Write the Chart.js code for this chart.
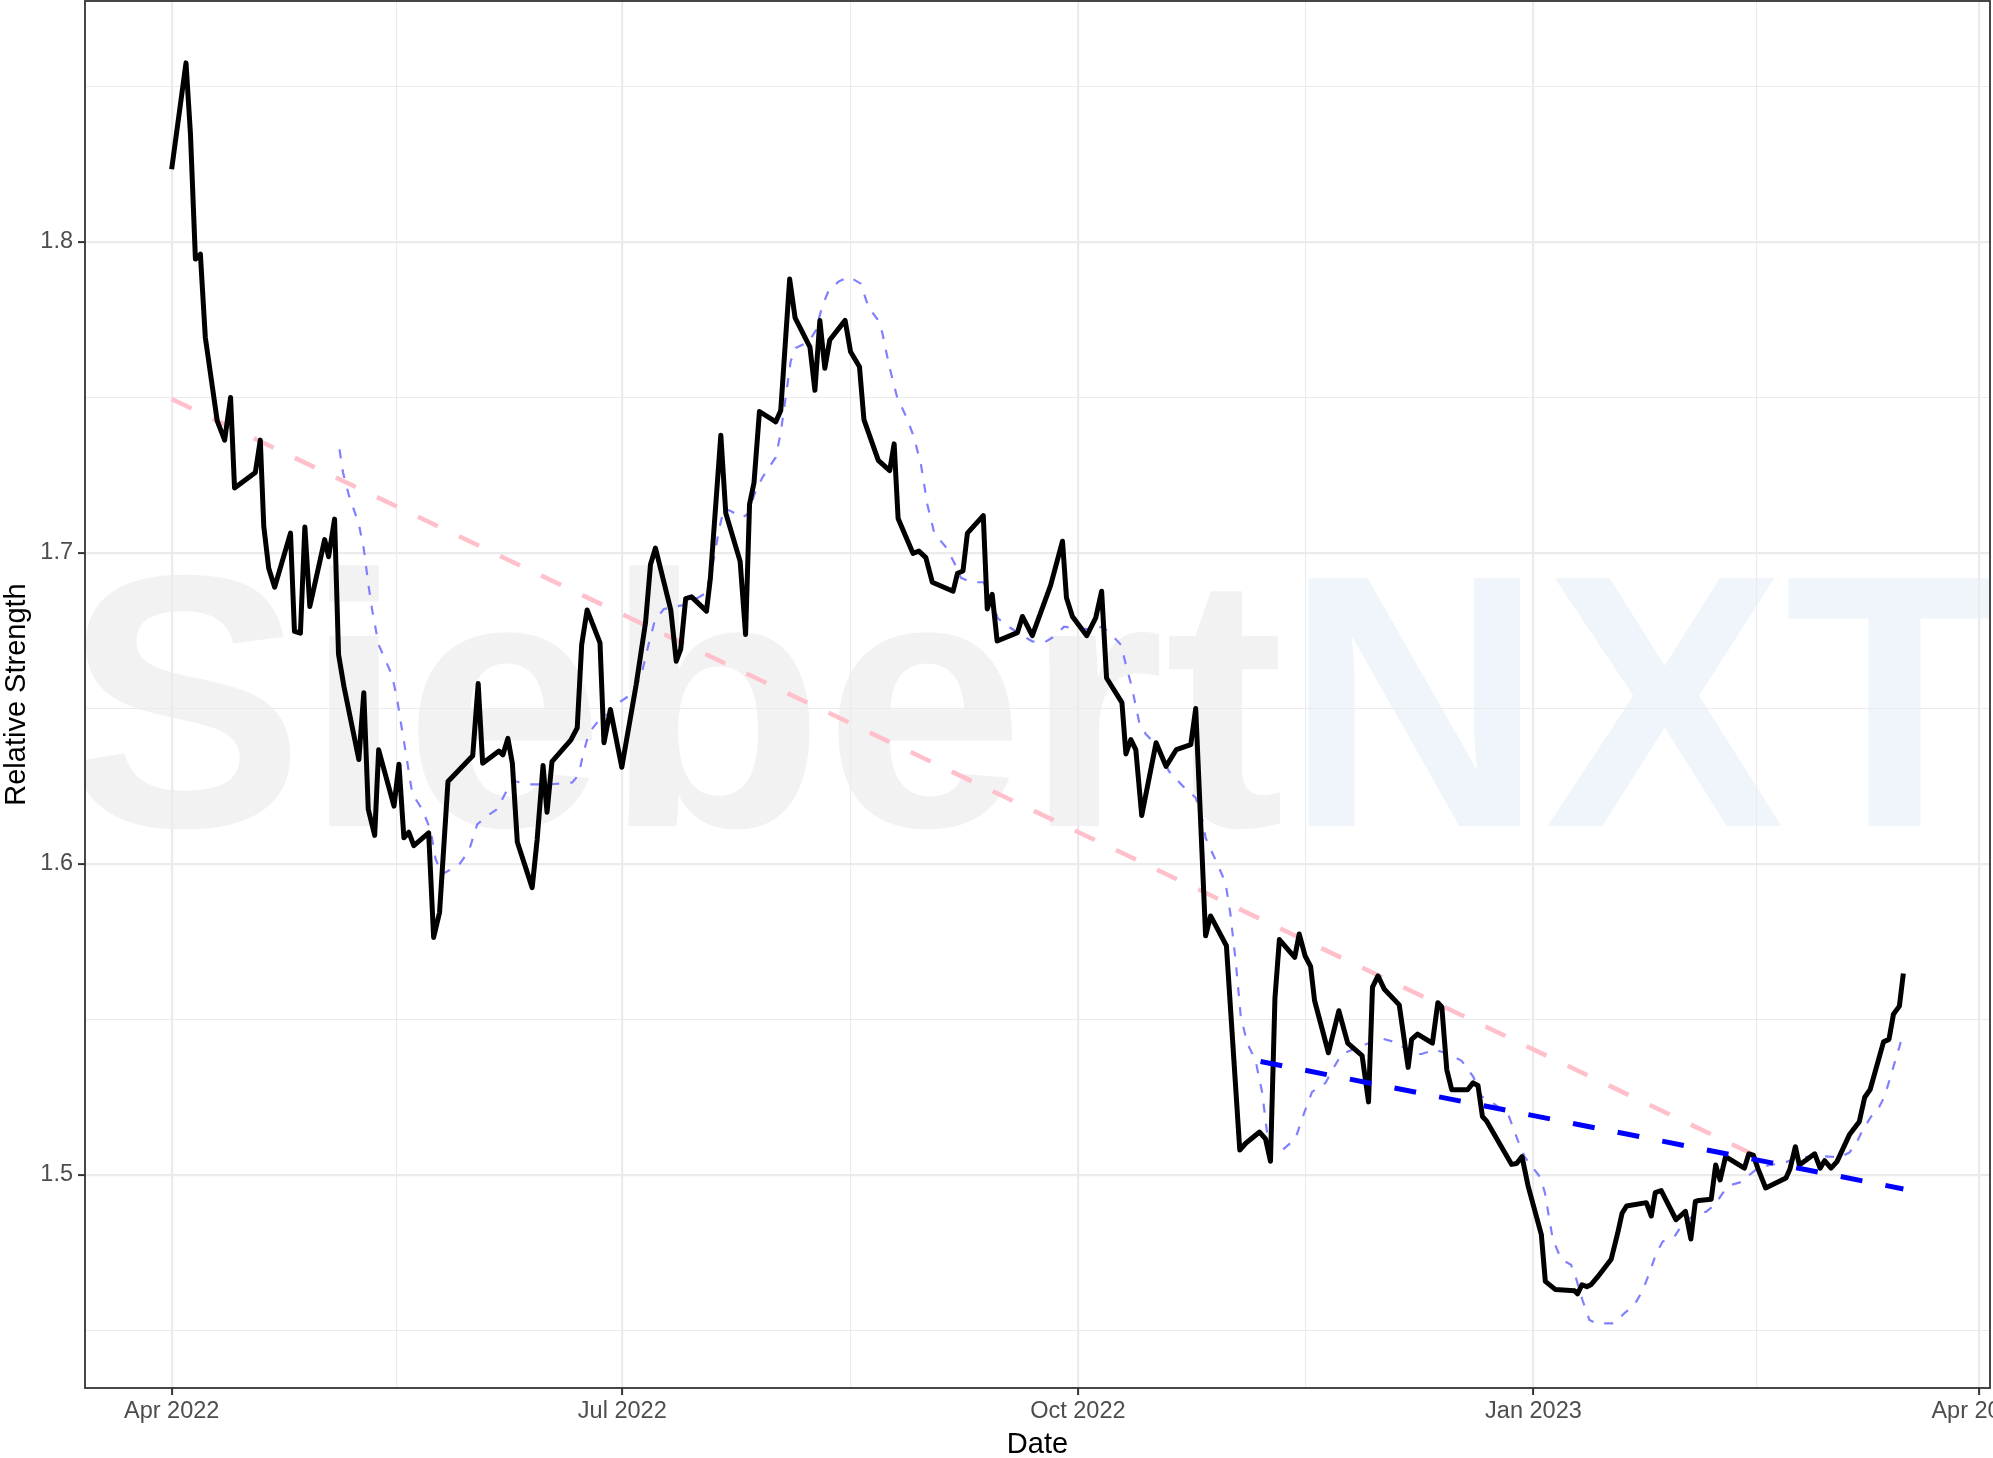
<!DOCTYPE html>
<html>
<head>
<meta charset="utf-8">
<title>Relative Strength</title>
<script src="https://cdn.jsdelivr.net/npm/chart.js@4.4.0/dist/chart.umd.min.js"></script>
<style>
  html, body { margin: 0; padding: 0; background: #ffffff; }
  canvas { display: block; }
</style>
</head>
<body>
<canvas id="rsChart" width="1993" height="1458"></canvas>
<script>
// x values are days counted from 2022-04-01

// relative strength (black line)
const rsDays = [
  0, 2.9, 3.8, 4.8, 5.8, 6.8, 9.2, 10.7, 11.9, 12.7,
  16.9, 17.9, 18.6, 19.6, 20.8, 24.0, 24.8, 26.0, 26.9, 27.9,
  30.9, 31.7, 32.9, 33.7, 34.8, 37.8, 38.8, 39.7, 41.0, 41.8,
  44.9, 45.9, 46.9, 47.9, 48.9, 51.9, 52.9, 54.1, 55.8, 60.8,
  61.9, 62.8, 66.1, 66.9, 67.9, 68.8, 69.8, 72.8, 73.8, 75.0,
  75.8, 76.8, 80.6, 81.9, 82.8, 83.9, 86.5, 87.3, 88.6, 90.9,
  93.8, 95.7, 96.7, 97.7, 100.8, 101.9, 102.8, 103.8, 105.0, 108.0,
  108.8, 110.9, 111.9, 114.8, 115.9, 116.7, 117.6, 118.7, 122.0, 123.0,
  124.8, 125.9, 128.9, 129.9, 130.9, 131.9, 132.9, 136.0, 137.1, 138.9,
  139.8, 142.7, 145.0, 145.9, 146.7, 149.7, 150.9, 152.3, 153.6, 157.8,
  158.7, 159.8, 160.7, 163.9, 164.7, 165.7, 166.7, 170.8, 171.8, 173.8,
  177.5, 179.9, 180.7, 181.9, 184.8, 186.6, 187.8, 188.8, 191.9, 192.7,
  193.7, 194.7, 195.9, 198.8, 200.8, 202.9, 205.8, 206.8, 208.8, 209.8,
  213.0, 215.7, 216.9, 219.7, 220.9, 221.9, 222.8, 223.7, 226.8, 227.7,
  228.9, 230.0, 230.8, 233.6, 235.7, 237.5, 240.4, 241.7, 242.5, 243.6,
  244.9, 247.9, 249.7, 250.4, 251.6, 254.6, 255.7, 256.5, 257.5, 258.5,
  261.7, 262.8, 263.8, 264.7, 265.5, 270.6, 271.6, 272.7, 273.9, 276.6,
  277.4, 279.4, 283.3, 283.9, 284.8, 285.8, 286.6, 288.0, 290.7, 292.0,
  292.9, 293.8, 297.8, 298.8, 299.6, 300.8, 303.8, 305.7, 306.8, 307.7,
  308.4, 310.9, 311.8, 312.7, 313.8, 317.6, 318.5, 319.4, 320.3, 321.9,
  326.0, 326.8, 327.9, 328.7, 331.8, 332.9, 333.8, 335.1, 336.3, 338.8,
  340.8, 341.9, 343.0, 345.7, 346.8, 347.7, 348.9, 349.7
];
const rsValues = [
  1.8234, 1.8576, 1.8346, 1.7945, 1.7961, 1.7693, 1.7425, 1.7363, 1.7500, 1.7209,
  1.7259, 1.7363, 1.7086, 1.6951, 1.6890, 1.7064, 1.6748, 1.6742, 1.7084, 1.6828,
  1.7043, 1.6988, 1.7109, 1.6674, 1.6570, 1.6336, 1.6551, 1.6176, 1.6092, 1.6367,
  1.6186, 1.6321, 1.6084, 1.6102, 1.6059, 1.6100, 1.5764, 1.5844, 1.6265, 1.6348,
  1.6580, 1.6324, 1.6363, 1.6351, 1.6404, 1.6324, 1.6071, 1.5924, 1.6077, 1.6317,
  1.6166, 1.6329, 1.6398, 1.6438, 1.6705, 1.6817, 1.6711, 1.6390, 1.6497, 1.6311,
  1.6576, 1.6777, 1.6963, 1.7016, 1.6816, 1.6652, 1.6691, 1.6853, 1.6859, 1.6813,
  1.6920, 1.7379, 1.7128, 1.6973, 1.6738, 1.7157, 1.7226, 1.7455, 1.7422, 1.7458,
  1.7881, 1.7756, 1.7662, 1.7523, 1.7748, 1.7594, 1.7685, 1.7748, 1.7647, 1.7599,
  1.7429, 1.7298, 1.7265, 1.7351, 1.7111, 1.6999, 1.7006, 1.6985, 1.6906, 1.6877,
  1.6935, 1.6942, 1.7064, 1.7120, 1.6820, 1.6867, 1.6717, 1.6744, 1.6796, 1.6734,
  1.6896, 1.7038, 1.6856, 1.6796, 1.6734, 1.6791, 1.6877, 1.6598, 1.6519, 1.6354,
  1.6400, 1.6368, 1.6156, 1.6390, 1.6314, 1.6368, 1.6384, 1.6500, 1.5769, 1.5833,
  1.5737, 1.5080, 1.5102, 1.5138, 1.5116, 1.5044, 1.5568, 1.5757, 1.5700, 1.5775,
  1.5704, 1.5671, 1.5561, 1.5393, 1.5528, 1.5424, 1.5384, 1.5235, 1.5604, 1.5640,
  1.5597, 1.5547, 1.5346, 1.5436, 1.5453, 1.5424, 1.5554, 1.5540, 1.5339, 1.5274,
  1.5274, 1.5296, 1.5288, 1.5188, 1.5174, 1.5034, 1.5037, 1.5059, 1.4966, 1.4808,
  1.4658, 1.4632, 1.4628, 1.4618, 1.4647, 1.4641, 1.4647, 1.4673, 1.4729, 1.4812,
  1.4877, 1.4900, 1.4911, 1.4868, 1.4943, 1.4950, 1.4856, 1.4883, 1.4794, 1.4915,
  1.4918, 1.4922, 1.5032, 1.4984, 1.5059, 1.5022, 1.5068, 1.5064, 1.5022, 1.4958,
  1.4990, 1.5019, 1.5091, 1.5032, 1.5068, 1.5022, 1.5046, 1.5022, 1.5043, 1.5129,
  1.5171, 1.5250, 1.5275, 1.5428, 1.5436, 1.5517, 1.5543, 1.5648
];

// moving average (thin dashed blue)
const maDays = [
  33.9, 34.6, 35.8, 37.8, 38.8, 39.8, 40.5, 41.8, 44.5, 45.5,
  46.5, 47.5, 48.6, 50.6, 52.3, 53.3, 54.6, 58.0, 60.0, 61.7,
  63.4, 65.7, 67.7, 68.8, 72.1, 76.2, 80.9, 82.2, 83.2, 84.3,
  86.6, 88.3, 90.3, 92.3, 94.7, 96.4, 97.6, 99.4, 103.8, 107.8,
  109.2, 110.5, 111.5, 112.9, 115.2, 116.6, 117.6, 119.3, 122.0, 123.0,
  124.0, 125.0, 126.0, 128.7, 130.1, 131.4, 132.7, 134.8, 136.8, 139.1,
  140.8, 142.5, 143.5, 144.9, 146.5, 148.6, 149.9, 151.3, 152.6, 154.0,
  156.6, 158.3, 159.4, 161.4, 163.9, 165.1, 166.8, 168.4, 171.1, 173.8,
  176.2, 178.5, 180.2, 182.6, 185.3, 188.0, 190.0, 191.7, 192.7, 193.9,
  195.4, 196.7, 198.8, 201.4, 204.1, 206.8, 208.2, 208.8, 210.8, 212.8,
  213.8, 214.9, 215.9, 217.2, 218.9, 220.2, 221.2, 221.9, 224.3, 226.9,
  228.6, 230.3, 233.0, 234.7, 236.3, 239.7, 243.0, 244.4, 247.7, 250.4,
  252.4, 255.1, 257.8, 260.5, 262.8, 264.5, 267.2, 269.9, 271.9, 273.2,
  276.3, 277.3, 278.9, 280.6, 282.6, 283.6, 284.9, 286.3, 287.6, 291.3,
  293.4, 295.4, 297.1, 298.4, 299.8, 301.1, 303.5, 305.2, 307.5, 309.9,
  311.6, 313.2, 314.9, 317.3, 318.6, 320.3, 322.7, 325.4, 328.1, 331.4,
  334.8, 336.8, 338.8, 340.2, 341.5, 343.2, 344.5, 345.9, 346.9, 347.9,
  348.9, 349.7
];
const maValues = [
  1.7333, 1.7259, 1.7185, 1.7093, 1.7013, 1.6890, 1.6816, 1.6705, 1.6607, 1.6533,
  1.6434, 1.6336, 1.6225, 1.6176, 1.6108, 1.6016, 1.5967, 1.5997, 1.6041, 1.6127,
  1.6151, 1.6176, 1.6237, 1.6268, 1.6256, 1.6256, 1.6262, 1.6287, 1.6361, 1.6422,
  1.6469, 1.6483, 1.6519, 1.6540, 1.6598, 1.6712, 1.6784, 1.6820, 1.6834, 1.6870,
  1.6956, 1.7071, 1.7143, 1.7135, 1.7114, 1.7128, 1.7186, 1.7243, 1.7308, 1.7387,
  1.7501, 1.7616, 1.7659, 1.7680, 1.7716, 1.7795, 1.7845, 1.7874, 1.7888, 1.7867,
  1.7788, 1.7752, 1.7709, 1.7601, 1.7501, 1.7429, 1.7372, 1.7286, 1.7157, 1.7064,
  1.7014, 1.6960, 1.6920, 1.6906, 1.6906, 1.6877, 1.6791, 1.6770, 1.6741, 1.6716,
  1.6712, 1.6734, 1.6763, 1.6758, 1.6755, 1.6763, 1.6734, 1.6705, 1.6641, 1.6569,
  1.6455, 1.6418, 1.6384, 1.6298, 1.6252, 1.6213, 1.6139, 1.6084, 1.6013, 1.5941,
  1.5840, 1.5683, 1.5510, 1.5424, 1.5367, 1.5267, 1.5138, 1.5080, 1.5080, 1.5116,
  1.5195, 1.5267, 1.5296, 1.5346, 1.5389, 1.5411, 1.5432, 1.5439, 1.5424, 1.5389,
  1.5389, 1.5403, 1.5389, 1.5367, 1.5317, 1.5253, 1.5227, 1.5195, 1.5109, 1.5059,
  1.4994, 1.4944, 1.4794, 1.4729, 1.4711, 1.4668, 1.4598, 1.4534, 1.4523, 1.4523,
  1.4556, 1.4582, 1.4630, 1.4684, 1.4748, 1.4786, 1.4802, 1.4845, 1.4872, 1.4882,
  1.4904, 1.4941, 1.4968, 1.4979, 1.5000, 1.5022, 1.5032, 1.5038, 1.5054, 1.5061,
  1.5059, 1.5057, 1.5072, 1.5102, 1.5145, 1.5188, 1.5209, 1.5252, 1.5305, 1.5359,
  1.5412, 1.5460
];

// trend lines
const upperTrendDays = [0, 319.4];
const upperTrendValues = [1.7495, 1.5066];
const lowerTrendDays = [219.9, 349.7];
const lowerTrendValues = [1.5365, 1.4955];

// axes
const xMajorTicks = [0, 91, 183, 275, 365];
const xMinorTicks = [45.5, 137, 229, 320];
const xTickLabels = ['Apr 2022', 'Jul 2022', 'Oct 2022', 'Jan 2023', 'Apr 2023'];
const yMajorTicks = [1.5, 1.6, 1.7, 1.8];
const yMinorTicks = [1.45, 1.55, 1.65, 1.75, 1.85];
const xMin = -17.5, xMax = 367.2;
const yMin = 1.4315, yMax = 1.8775;

const FONT = "'Liberation Sans', Arial, Helvetica, sans-serif";

function toPoints(days, values) {
    return days.map((d, i) => ({ x: d, y: values[i] }));
}

function isMajor(v, list) {
    return list.some(m => Math.abs(m - v) < 1e-6);
}

function setTicks(list) {
    return scale => {
        scale.ticks = list.slice().sort((a, b) => a - b).map(v => ({ value: v }));
    };
}

function gridFor(majors) {
    return {
        color: '#EBEBEB',
        lineWidth: ctx => (ctx.tick && isMajor(ctx.tick.value, majors)) ? 2.2 : 1.1,
        tickColor: ctx => (ctx.tick && isMajor(ctx.tick.value, majors)) ? '#333333' : 'rgba(0,0,0,0)',
        tickWidth: 2,
        tickLength: 7,
        drawTicks: true
    };
}

// watermark under the grid
const watermarkPlugin = {
    id: 'watermark',
    beforeDraw(chart) {
        const { ctx, chartArea: a } = chart;
        ctx.save();
        ctx.fillStyle = '#ffffff';
        ctx.fillRect(0, 0, chart.width, chart.height);
        ctx.beginPath();
        ctx.rect(a.left, a.top, a.right - a.left, a.bottom - a.top);
        ctx.clip();
        ctx.font = 'bold 360px ' + FONT;
        ctx.textBaseline = 'alphabetic';
        ctx.textAlign = 'left';
        const x0 = a.left - 21;
        const base = a.top + 825;
        ctx.fillStyle = '#F2F2F2';
        ctx.fillText('Siebert', x0, base);
        ctx.fillStyle = '#EFF5FA';
        ctx.fillText('NXT', x0 + ctx.measureText('Siebert').width, base);
        ctx.restore();
    }
};

// panel border like theme_bw
const borderPlugin = {
    id: 'panelBorder',
    afterDatasetsDraw(chart) {
        const { ctx, chartArea: a } = chart;
        ctx.save();
        ctx.strokeStyle = '#333333';
        ctx.lineWidth = 1.8;
        ctx.strokeRect(a.left, a.top, a.right - a.left, a.bottom - a.top);
        ctx.restore();
    }
};

new Chart(document.getElementById('rsChart'), {
    type: 'line',
    data: {
        datasets: [
            {
                label: 'Lower trend',
                data: toPoints(lowerTrendDays, lowerTrendValues),
                borderColor: '#0000FF',
                borderWidth: 5,
                borderDash: [22, 23.5],
                order: 0
            },
            {
                label: 'Relative Strength',
                data: toPoints(rsDays, rsValues),
                borderColor: '#000000',
                borderWidth: 5,
                borderJoinStyle: 'round',
                order: 1
            },
            {
                label: 'Upper trend',
                data: toPoints(upperTrendDays, upperTrendValues),
                borderColor: '#FFC0CB',
                borderWidth: 4.5,
                borderDash: [22, 23.5],
                order: 2
            },
            {
                label: 'Moving average',
                data: toPoints(maDays, maValues),
                borderColor: '#8080FF',
                borderWidth: 2.2,
                borderDash: [9, 11],
                order: 3
            }
        ]
    },
    options: {
        responsive: false,
        animation: false,
        events: [],
        devicePixelRatio: 1,
        layout: { padding: { top: 1, right: 3, left: 0, bottom: 0 } },
        elements: {
            point: { radius: 0 },
            line: { tension: 0, fill: false }
        },
        plugins: {
            legend: { display: false },
            tooltip: { enabled: false }
        },
        scales: {
            x: {
                type: 'linear',
                min: xMin,
                max: xMax,
                bounds: 'data',
                afterBuildTicks: setTicks([...xMajorTicks, ...xMinorTicks]),
                afterFit: s => { s.height = 70; s.paddingLeft = 0; s.paddingRight = 0; },
                grid: gridFor(xMajorTicks),
                border: { display: false },
                ticks: {
                    autoSkip: false,
                    maxRotation: 0,
                    minRotation: 0,
                    padding: 2,
                    color: '#4D4D4D',
                    font: { family: FONT, size: 23.5 },
                    callback: v => {
                        const i = xMajorTicks.findIndex(m => Math.abs(m - v) < 1e-6);
                        return i >= 0 ? xTickLabels[i] : '';
                    }
                },
                title: {
                    display: true,
                    text: 'Date',
                    color: '#000000',
                    font: { family: FONT, size: 29 },
                    padding: { top: 0, bottom: -4 }
                }
            },
            y: {
                type: 'linear',
                min: yMin,
                max: yMax,
                bounds: 'data',
                afterBuildTicks: setTicks([...yMajorTicks, ...yMinorTicks]),
                afterFit: s => { s.width = 85; s.paddingTop = 0; s.paddingBottom = 0; },
                grid: gridFor(yMajorTicks),
                border: { display: false },
                ticks: {
                    autoSkip: false,
                    padding: 5,
                    color: '#4D4D4D',
                    font: { family: FONT, size: 23.5 },
                    callback: v => isMajor(v, yMajorTicks) ? v.toFixed(1) : ''
                },
                title: {
                    display: true,
                    text: 'Relative Strength',
                    color: '#000000',
                    font: { family: FONT, size: 29 },
                    padding: { top: 0, bottom: 0 }
                }
            }
        }
    },
    plugins: [watermarkPlugin, borderPlugin]
});
</script>
</body>
</html>
